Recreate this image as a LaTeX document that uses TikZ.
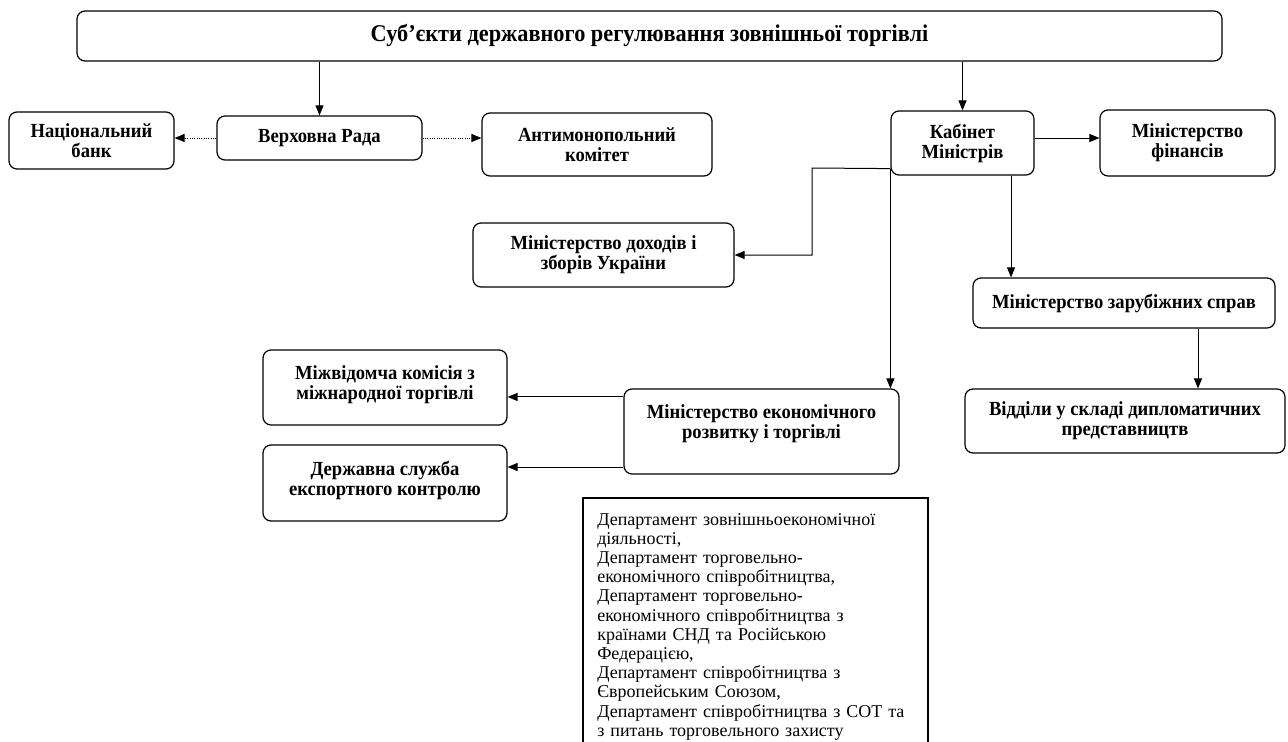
\documentclass[tikz,border=0pt]{standalone}
\usepackage{fontspec}
\setmainfont{Liberation Serif}
\newfontfamily\condbf{Liberation Serif}[FakeStretch=0.93]
\usetikzlibrary{arrows.meta,calc}
\begin{document}
\begin{tikzpicture}[x=0.75pt,y=-0.75pt]
\tikzset{
  box/.style={draw, line width=0.9pt, rounded corners=6pt, align=center, inner sep=0pt,
              font=\condbf\bfseries\fontsize{15}{15}\selectfont},
  sz/.style 2 args={minimum width=#1*0.75pt, minimum height=#2*0.75pt},
  arr/.style={line width=0.75pt, -{Triangle[length=7.5pt,width=6pt]}},
  darr/.style={line width=0.75pt, densely dotted, -{Triangle[length=7.5pt,width=6pt]}},
  plain/.style={font=\fontsize{13.5}{14.4}\selectfont, align=left, inner sep=0pt, text width=330*0.75pt}
}
\useasboundingbox (0,0) rectangle (1288,742);

% boxes
\node[box, sz={1145}{50}, font=\condbf\bfseries\fontsize{18}{18}\selectfont] (top) at (649.5,36)
  {Суб’єкти державного регулювання зовнішньої торгівлі};
\node[box, sz={165}{57}] (nb) at (91.5,140.5) {Національний\\банк};
\node[box, sz={205}{44}] (vr) at (319.5,138) {Верховна Рада};
\node[box, sz={230}{63}] (am) at (597,144.5) {Антимонопольний\\комітет};
\node[box, sz={143}{64}] (km) at (962.5,143) {Кабінет\\Міністрів};
\node[box, sz={175}{66}] (mf) at (1187.5,143) {Міністерство\\фінансів};
\node[box, sz={261}{64}] (md) at (603.5,255) {Міністерство доходів і\\зборів України};
\node[box, sz={302}{50}] (mz) at (1124,303) {Міністерство зарубіжних справ};
\node[box, sz={320}{64}] (vd) at (1125,421) {Відділи у складі дипломатичних\\представництв};
\node[box, sz={244}{75}] (mi) at (385,387.5) {Міжвідомча комісія з\\міжнародної торгівлі\\[-7.5pt]\mbox{}};
\node[box, sz={244}{76}] (ds) at (385,483) {Державна служба\\експортного контролю\\[-7.5pt]\mbox{}};
\node[box, sz={275}{85}] (me) at (761.5,431.5) {Міністерство економічного\\розвитку і торгівлі\\[0pt]\mbox{}};

% departments list (box open at the bottom)
\node[plain, anchor=north west] (dep) at (597,513)
  {Департамент зовнішньоекономічної\\
   діяльності,\\
   Департамент торговельно-\\
   економічного співробітництва,\\
   Департамент торговельно-\\
   економічного співробітництва з\\
   країнами СНД та Російською\\
   Федерацією,\\
   Департамент співробітництва з\\
   Європейським Союзом,\\
   Департамент співробітництва з СОТ та\\
   з питань торговельного захисту};
\draw[line width=0.9pt] (583,760) |- (928,498) -- (928,760);

% connectors
\draw[arr] (top.south -| vr.north) -- (vr.north);
\draw[arr] (top.south -| km.north) -- (km.north);
\draw[darr] (vr.west) -- (vr.west -| nb.east);
\draw[darr] (vr.east) -- (vr.east -| am.west);
\coordinate (k1) at ([yshift=3.75pt]km.east);
\draw[arr] (k1) -- (k1 -| mf.west);
\coordinate (k2) at ([yshift=5.25pt]km.south west);
\coordinate (c1) at (812,168);
\draw[arr] (k2) -- (c1) |- (md.east);
\draw[arr] (k2) -- (me.north -| k2);
\coordinate (k3) at ([xshift=36.4pt]km.south);
\draw[arr] (k3) -- (mz.north -| k3);
\coordinate (z1) at ([xshift=55.5pt]mz.south);
\draw[arr] (z1) -- (vd.north -| z1);
\coordinate (a1) at ([yshift=-7.1pt]mi.east);
\draw[arr] (me.west |- a1) -- (a1);
\coordinate (a2) at ([yshift=12pt]ds.east);
\draw[arr] (me.west |- a2) -- (a2);
\end{tikzpicture}
\end{document}
